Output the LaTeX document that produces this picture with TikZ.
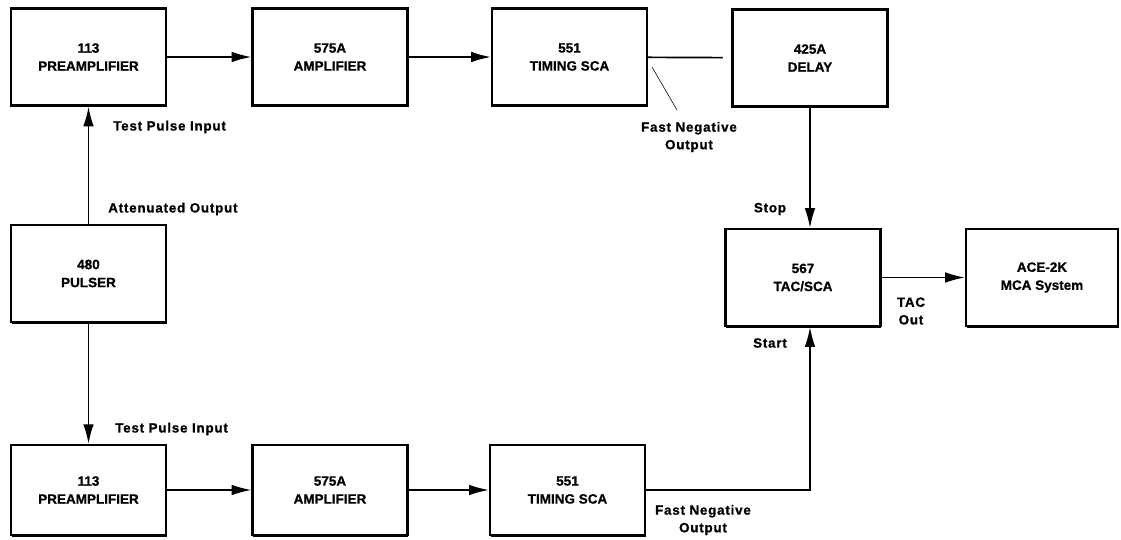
\documentclass[tikz,border=0pt]{standalone}
\usepackage{fontspec}
\setmainfont{Liberation Sans}
\newfontfamily\boxfont[FakeBold=0.8]{Liberation Sans}
\newfontfamily\tagfont[LetterSpace=6,FakeBold=1]{Liberation Sans}
\usetikzlibrary{arrows.meta,shadows}
\tikzset{
  unit/.style={draw, line width=1.5pt, fill=white, minimum width=3.875cm,
    minimum height=2.425cm, align=center,
    font=\fontsize{9.6}{12.8}\selectfont\boxfont\bfseries,
    drop shadow={shadow xshift=0.6pt, shadow yshift=-1.2pt, opacity=1, fill=black}},
  tag/.style={align=center, inner sep=0pt,
    font=\fontsize{9.5}{12.5}\selectfont\tagfont\bfseries},
  sig/.style={line width=1.2pt, -{Latex[length=14pt,width=7.5pt]}},
}

\begin{document}
\begin{tikzpicture}[x=0.025cm, y=-0.025cm]
\useasboundingbox (0,0) rectangle (1121,540);
\node[unit] (preA)   at (88.5,57)   {113\\PREAMPLIFIER};
\node[unit] (ampA)   at (330,57)    {575A\\AMPLIFIER};
\node[unit] (scaA)   at (569.5,57)  {551\\TIMING SCA};
\node[unit] (delay)  at (810,58)    {425A\\DELAY};
\node[unit] (pulser) at (88.5,273.5) {480\\PULSER};
\node[unit] (tac)    at (803,277.5) {567\\TAC/SCA};
\node[unit, minimum width=3.8cm] (ace) at (1042,277.5) {ACE-2K\\MCA System};
\node[unit, minimum height=2.25cm] (preB) at (88.5,490) {113\\PREAMPLIFIER};
\node[unit, minimum height=2.25cm] (ampB) at (330,490)  {575A\\AMPLIFIER};
\node[unit, minimum height=2.25cm] (scaB) at (567.5,490) {551\\TIMING SCA};
% labels
\node[tag, anchor=west] (tpiA) at (113,127) {Test Pulse Input};
\node[tag, anchor=west] (att)  at (108,209) {Attenuated Output};
\node[tag, anchor=west] (tpiB) at (115,429) {Test Pulse Input};
\node[tag] (fnA)    at (689,137) {Fast Negative\\Output};
\node[tag] (stop)   at (770,209) {Stop};
\node[tag] (start)  at (770,343) {Start};
\node[tag] (tacout) at (911,311) {TAC\\Out};
\node[tag] (fnB)    at (703,520) {Fast Negative\\Output};
\coordinate (fnAfrom) at (652,67);
\coordinate (fnAto)   at (677,110);
% signal lines
\draw[sig] (preA) -- (ampA);
\draw[sig] (ampA) -- (scaA);
\draw[line width=1.2pt, shorten >=6pt] (scaA) -- (delay);
\draw[thin] (fnAfrom) -- (fnAto);
\draw[sig] (delay.south) -- (delay.south |- tac.north);
\draw[sig] (tac) -- (ace);
\draw[sig] (pulser) -- (preA);
\draw[sig] (pulser) -- (preB);
\draw[sig] (preB) -- (ampB);
\draw[sig] (ampB) -- (scaB);
\draw[sig] (scaB.east) -| (delay.south |- tac.south);
\end{tikzpicture}
\end{document}
